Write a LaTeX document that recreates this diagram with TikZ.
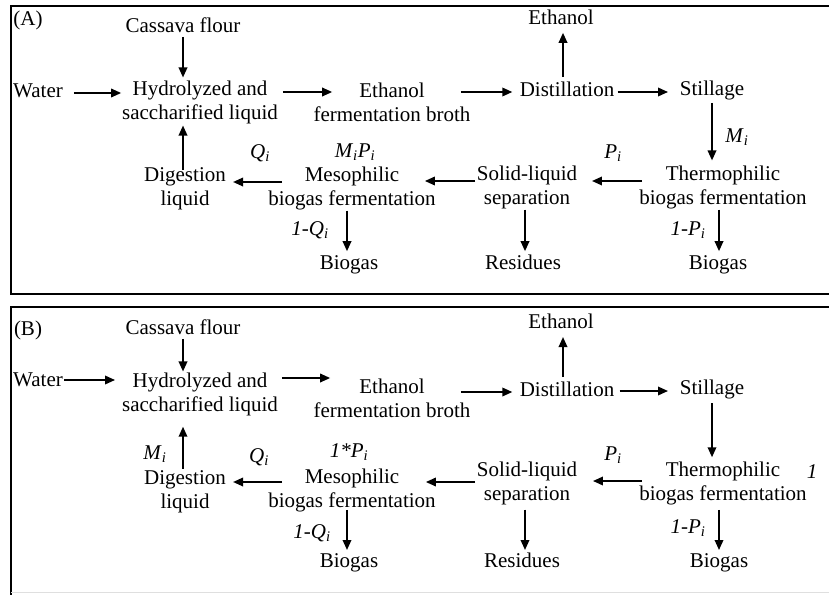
\documentclass[tikz,border=0pt]{standalone}
\usepackage{fontspec}
\setmainfont{Liberation Serif}
\usetikzlibrary{arrows.meta}
\newcommand\isub[2]{\textit{#1}\textsubscript{\textit{#2}}}
\tikzset{
  txt/.style={font=\fontsize{21}{24}\selectfont, inner sep=0pt, outer sep=0pt, align=center},
  one/.style={txt, text height=15pt, text depth=4.6pt},
  arr/.style={line width=1.8pt, -{Triangle[length=10pt,width=8.5pt]}},
  frame/.style={line width=2.8pt}
}
\begin{document}
\begin{tikzpicture}[x=1pt,y=-1pt]
\useasboundingbox (0,0) rectangle (829,594);
\clip (0,0) rectangle (829,594);
\draw[frame] (11,6) rectangle (860,294);
\draw[frame] (11,307) rectangle (860,620);
\draw[gray!25, line width=1pt] (11,592) -- (829,592);

% Panel A
\node[one] (labA) at (28,20) {(A)};
\node[one] (cassA) at (183,27) {Cassava flour};
\node[one] (waterA) at (38,92) {Water};
\node[txt] (hydroA) at (200,102) {Hydrolyzed and\\saccharified liquid};
\node[txt] (brothA) at (392,102) {Ethanol\\fermentation broth};
\node[one] (distA) at (567,91) {Distillation};
\node[one] (ethA) at (561,19) {Ethanol};
\node[one] (stillA) at (712,90) {Stillage};
\node[txt] (thermoA) at (723,187) {Thermophilic\\biogas fermentation};
\node[txt] (solidA) at (527,187) {Solid-liquid\\separation};
\node[txt] (mesoA) at (352,188) {Mesophilic\\biogas fermentation};
\node[txt] (digA) at (185,189) {Digestion\\liquid};
\node[one] (mpA) at (355,152) {\isub{M}{i}\isub{P}{i}};
\node[one] (qA) at (260,153) {\isub{Q}{i}};
\node[one] (pA) at (613,153) {\isub{P}{i}};
\node[one] (mA) at (737,137) {\isub{M}{i}};
\node[one] (oqA) at (310,230) {\isub{1-Q}{i}};
\node[one] (opA) at (688,230) {\isub{1-P}{i}};
\node[one] (bg1A) at (349,264) {Biogas};
\node[one] (resA) at (523,264) {Residues};
\node[one] (bg2A) at (718,264) {Biogas};

\draw[arr] (cassA.south) -- ([shift={(-17,-3)}]hydroA.north);
\draw[arr] ([shift={(11,1)}]waterA.east) -- ([shift={(-1,-9)}]hydroA.west);
\draw[arr] ([shift={(5,-10)}]hydroA.east) -- ([shift={(18.6,-10)}]brothA.west);
\draw[arr] ([shift={(-9.6,-10)}]brothA.east) -- ([shift={(-7.4,1)}]distA.west);
\draw[arr] ([shift={(-4,-4)}]distA.north) -- ([shift={(2,4)}]ethA.south);
\draw[arr] ([shift={(3.4,1)}]distA.east) -- ([shift={(-11.9,2)}]stillA.west);
\draw[arr] ([shift={(0,3)}]stillA.south) -- ([shift={(-11,-5)}]thermoA.north);
\draw[arr] ([shift={(2.8,-6)}]thermoA.west) -- ([shift={(14.8,-6)}]solidA.east);
\draw[arr] ([shift={(-1.8,-6)}]solidA.west) -- ([shift={(-10.8,-7)}]mesoA.east);
\draw[arr] ([shift={(13.8,-6)}]mesoA.west) -- ([shift={(7.2,-7)}]digA.east);
\draw[arr] ([shift={(-2,2)}]digA.north) -- ([shift={(-17,2)}]hydroA.south);
\draw[arr] ([shift={(-5,1)}]mesoA.south) -- ([shift={(-2,-3)}]bg1A.north);
\draw[arr] ([shift={(-2,1)}]solidA.south) -- ([shift={(2,-3)}]resA.north);
\draw[arr] ([shift={(-4,1)}]thermoA.south) -- ([shift={(1,-3)}]bg2A.north);

% Panel B
\node[one] (labB) at (28,330) {(B)};
\node[one] (cassB) at (183,329) {Cassava flour};
\node[one] (waterB) at (38,381) {Water};
\node[txt] (hydroB) at (200,394) {Hydrolyzed and\\saccharified liquid};
\node[txt] (brothB) at (392,398) {Ethanol\\fermentation broth};
\node[one] (distB) at (567,391) {Distillation};
\node[one] (ethB) at (561,323) {Ethanol};
\node[one] (stillB) at (712,389) {Stillage};
\node[txt] (thermoB) at (723,483) {Thermophilic\\biogas fermentation};
\node[txt] (solidB) at (527,483) {Solid-liquid\\separation};
\node[txt] (mesoB) at (352,490) {Mesophilic\\biogas fermentation};
\node[txt] (digB) at (185,492) {Digestion\\liquid};
\node[one] (mpB) at (349,452) {\isub{1*P}{i}};
\node[one] (mB) at (155,454) {\isub{M}{i}};
\node[one] (qB) at (259,457) {\isub{Q}{i}};
\node[one] (pB) at (613,455) {\isub{P}{i}};
\node[one] (oneB) at (812,473) {\textit{1}};
\node[one] (oqB) at (312,533) {\isub{1-Q}{i}};
\node[one] (opB) at (688,528) {\isub{1-P}{i}};
\node[one] (bg1B) at (349,562) {Biogas};
\node[one] (resB) at (522,562) {Residues};
\node[one] (bg2B) at (719,562) {Biogas};

\draw[arr] (cassB.south) -- ([shift={(-17,-1)}]hydroB.north);
\draw[arr] ([shift={(1.3,-1)}]waterB.east) -- ([shift={(-7.1,-14)}]hydroB.west);
\draw[arr] ([shift={(4.1,-16)}]hydroB.east) -- ([shift={(16.6,-20)}]brothB.west);
\draw[arr] ([shift={(-9.6,-6)}]brothB.east) -- ([shift={(-7.4,1)}]distB.west);
\draw[arr] ([shift={(-4,-4.2)}]distB.north) -- ([shift={(2,4.2)}]ethB.south);
\draw[arr] ([shift={(5.4,0)}]distB.east) -- ([shift={(-11.9,2)}]stillB.west);
\draw[arr] ([shift={(0,4.2)}]stillB.south) -- ([shift={(-11,-4.2)}]thermoB.north);
\draw[arr] ([shift={(2.8,-2)}]thermoB.west) -- ([shift={(15.8,-2)}]solidB.east);
\draw[arr] ([shift={(-1.8,-1)}]solidB.west) -- ([shift={(-9.8,-8)}]mesoB.east);
\draw[arr] ([shift={(13.8,-8)}]mesoB.west) -- ([shift={(7.2,-10)}]digB.east);
\draw[arr] ([shift={(-2,-2.2)}]digB.north) -- ([shift={(-17,11.2)}]hydroB.south);
\draw[arr] ([shift={(-5,-1.8)}]mesoB.south) -- ([shift={(-2,-2.2)}]bg1B.north);
\draw[arr] ([shift={(-2,5.2)}]solidB.south) -- ([shift={(3,-2.2)}]resB.north);
\draw[arr] ([shift={(-4,5.2)}]thermoB.south) -- ([shift={(0,-2.2)}]bg2B.north);
\end{tikzpicture}
\end{document}
